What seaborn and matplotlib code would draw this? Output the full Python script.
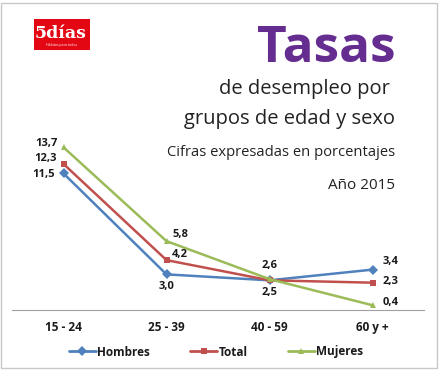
import matplotlib
matplotlib.use("Agg")
import matplotlib.pyplot as plt
import seaborn as sns
import pandas as pd
from matplotlib.patches import Rectangle
from matplotlib.lines import Line2D

categories = ["15 - 24", "25 - 39", "40 - 59", "60 y +"]
hombres = [11.5, 3.0, 2.5, 3.4]
total = [12.3, 4.2, 2.5, 2.3]
mujeres = [13.7, 5.8, 2.6, 0.4]
series_names = ["Hombres", "Total", "Mujeres"]
colors = {"Hombres": "#4F81BD", "Total": "#C0504D", "Mujeres": "#9BBB59"}
markers = {"Hombres": "D", "Total": "s", "Mujeres": "^"}

rows = []
for name, vals in zip(series_names, [hombres, total, mujeres]):
    for i, v in enumerate(vals):
        rows.append({"pos": i, "val": v, "serie": name})
df = pd.DataFrame(rows)

sns.set_style("white")
plt.rcParams["font.family"] = ["Open Sans", "DejaVu Sans"]

W, H = 441, 373
fig = plt.figure(figsize=(W / 100, H / 100), dpi=100)
fig.patch.set_facecolor("white")

def fx(px): return px / W
def fy(py): return 1 - py / H

ax = fig.add_axes([fx(12), fy(310), fx(424) - fx(12), fy(120) - fy(310)])
ax.set_facecolor("none")
sns.lineplot(data=df, x="pos", y="val", hue="serie", style="serie",
             palette=colors, markers=markers, dashes=False, linewidth=1.8,
             markersize=5, markeredgewidth=0, ax=ax, legend=False)
ax.set_xlim(-0.5, 3.5)
ax.set_ylim(0, 16)
ax.set_xlabel("")
ax.set_ylabel("")
ax.set_yticks([])
ax.set_xticks(range(len(categories)))
ax.set_xticklabels(categories, fontsize=8.5, fontweight="bold", color="#1a1a1a")
ax.tick_params(axis="x", length=0, pad=8)
ax.set_xticks([-0.5, 0.5, 1.5, 2.5, 3.5], minor=True)
ax.tick_params(axis="x", which="minor", length=5, color="#A0A0A0", direction="inout", width=0.8)
for s in ["top", "right", "left"]:
    ax.spines[s].set_visible(False)
ax.spines["bottom"].set_color("#A0A0A0")
ax.spines["bottom"].set_linewidth(0.8)

def fmt(v):
    return f"{v:.1f}".replace(".", ",")

lab_kw = dict(fontsize=8, fontweight="bold", color="#1a1a1a", textcoords="offset points")
labels = [
    (mujeres, 0, -4, 3, "right", "center"),
    (total, 0, -5, 4, "right", "center"),
    (hombres, 0, -6, -1, "right", "center"),
    (mujeres, 1, 4, 5, "left", "center"),
    (total, 1, 4, 4, "left", "center"),
    (hombres, 1, 0, -9, "center", "center"),
    (mujeres, 2, 0, 10, "center", "center"),
    (hombres, 2, 0, -9, "center", "center"),
    (hombres, 3, 7, 6, "left", "center"),
    (total, 3, 7, 1, "left", "center"),
    (mujeres, 3, 7, 2, "left", "center"),
]
for vals, i, dx, dy, ha, va in labels:
    ax.annotate(fmt(vals[i]), (i, vals[i]), xytext=(dx, dy), ha=ha, va=va, **lab_kw)

# Legend
handles = [Line2D([0], [0], color=colors[n], marker=markers[n], markersize=5,
                  markeredgewidth=0, linewidth=2) for n in series_names]
fig.legend(handles, series_names, loc="center", bbox_to_anchor=(fx(216), fy(352)),
           ncol=3, frameon=False, handlelength=2.3, columnspacing=3.4, handletextpad=0.1,
           prop={"size": 8.5, "weight": "bold"}, labelcolor="#1a1a1a")

# Titles
fig.text(fx(396), fy(62), "Tasas", ha="right", va="baseline", fontsize=37,
         fontweight="bold", color="#662D91")
fig.text(fx(390), fy(94), "de desempleo por", ha="right", va="baseline", fontsize=14.5, color="#222222")
fig.text(fx(395), fy(124), "grupos de edad y sexo", ha="right", va="baseline", fontsize=14.5, color="#222222")
fig.text(fx(395), fy(156), "Cifras expresadas en porcentajes", ha="right", va="baseline", fontsize=10.6, color="#222222")
fig.text(fx(395), fy(189), "Año 2015", ha="right", va="baseline", fontsize=11, color="#222222")

# Logo
fig.patches.append(Rectangle((fx(34), fy(50)), fx(90) - fx(34), fy(19) - fy(50),
                             transform=fig.transFigure, facecolor="#E30613", edgecolor="none"))
fig.text(fx(61), fy(34), "5días", ha="center", va="center", fontsize=12.5, fontweight="bold",
         color="white", family=["DejaVu Serif"])
fig.text(fx(62), fy(45), "Hábitos para todos", ha="center", va="center", fontsize=2.5, color="white")

# Frame
fig.patches.append(Rectangle((fx(0.5), fy(368)), fx(437) - fx(0.5), fy(3) - fy(368),
                             transform=fig.transFigure, facecolor="none", edgecolor="#C8C8C8", linewidth=1))

fig.savefig("out.png", dpi=100)
